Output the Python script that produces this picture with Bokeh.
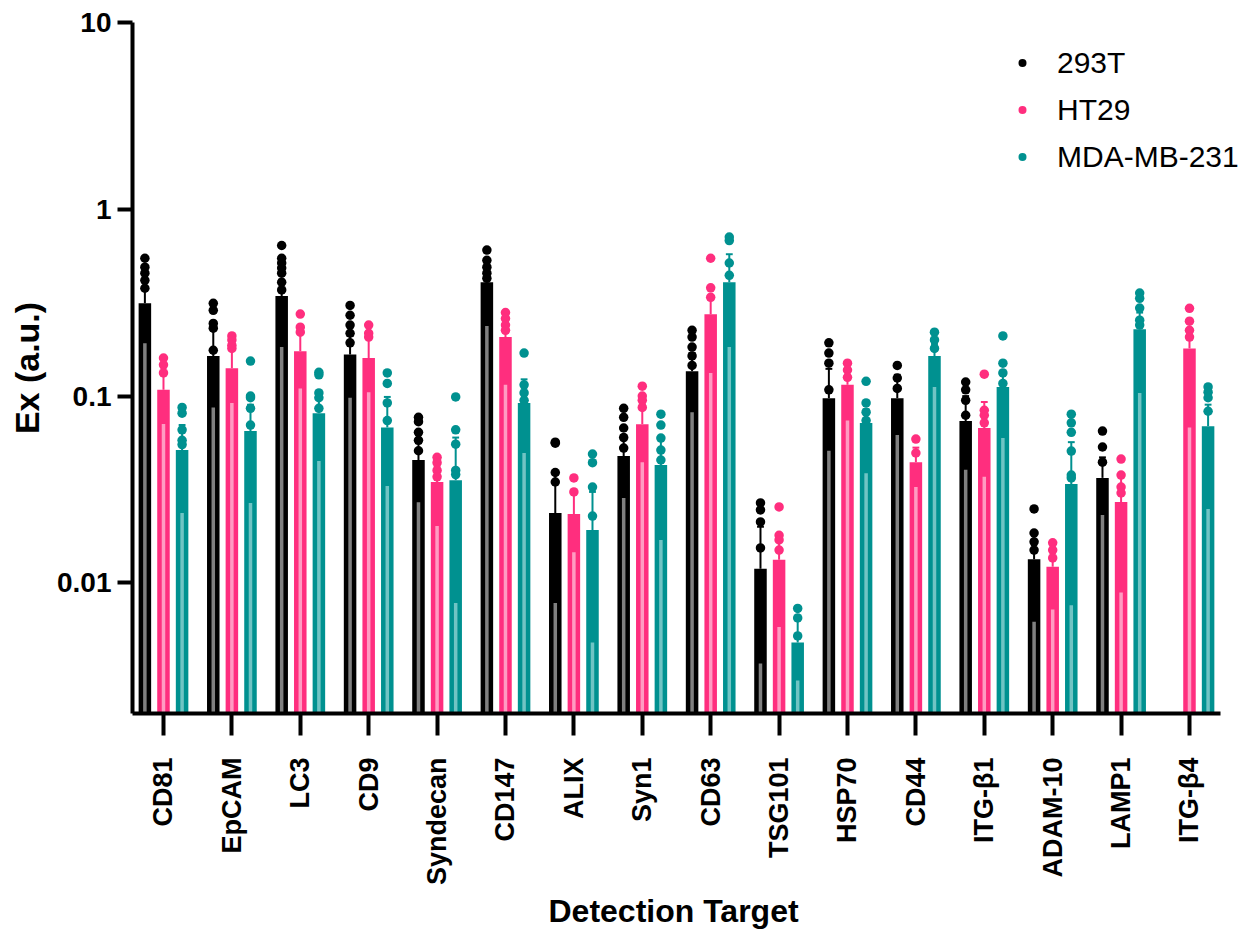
import math
from bokeh.plotting import figure
from bokeh.models import FixedTicker, Legend, LegendItem, ColumnDataSource, Range1d, Title
from bokeh.embed import file_html
from bokeh.resources import INLINE

categories = ["CD81", "EpCAM", "LC3", "CD9", "Syndecan", "CD147", "ALIX", "Syn1",
              "CD63", "TSG101", "HSP70", "CD44", "ITG-β1", "ADAM-10", "LAMP1", "ITG-β4"]
series = ["293T", "HT29", "MDA-MB-231"]

# bar heights (means)
mean_293T = [0.314, 0.164, 0.343, 0.167, 0.0455, 0.407, 0.0237, 0.0478, 0.136, 0.0119,
             0.0975, 0.0975, 0.0735, 0.0134, 0.0365, None]
mean_HT29 = [0.108, 0.141, 0.174, 0.160, 0.0347, 0.207, 0.0234, 0.0708, 0.274, 0.0133,
             0.115, 0.0443, 0.0675, 0.0122, 0.0271, 0.180]
mean_MDA = [0.0514, 0.065, 0.081, 0.068, 0.0355, 0.092, 0.0192, 0.0428, 0.407, 0.0048,
            0.0717, 0.164, 0.112, 0.0338, 0.228, 0.069]

# upper end of error bars (mean + SD)
hi_293T = [0.38, 0.23, 0.42, 0.21, 0.056, 0.48, 0.038, 0.062, 0.17, 0.020,
           0.14, 0.13, 0.10, 0.017, 0.047, None]
hi_HT29 = [0.13, 0.19, 0.22, 0.21, 0.042, 0.24, 0.031, 0.090, 0.33, 0.017,
           0.135, 0.053, 0.093, 0.0148, 0.038, 0.23]
hi_MDA = [0.070, 0.090, 0.105, 0.099, 0.060, 0.123, 0.0307, 0.0604, 0.575, 0.0065,
          0.085, 0.19, 0.13, 0.0567, 0.28, 0.090]

# lower end of error bars (mean - SD), drawn as light stripe inside bar
lo_293T = [0.192, 0.087, 0.183, 0.098, 0.027, 0.237, 0.0078, 0.0285, 0.082, 0.0037,
           0.051, 0.062, 0.0403, 0.0062, 0.0231, None]
lo_HT29 = [0.071, 0.092, 0.110, 0.105, 0.0202, 0.115, 0.0146, 0.0443, 0.133, 0.0058,
           0.074, 0.0326, 0.037, 0.0072, 0.0089, 0.068]
lo_MDA = [0.0237, 0.0268, 0.045, 0.033, 0.0078, 0.0496, 0.0048, 0.017, 0.183, 0.0030,
          0.0387, 0.112, 0.0596, 0.0076, 0.104, 0.0249]

# individual replicate points (visible ones)
pts_293T = [[0.547, 0.49, 0.455, 0.417, 0.378], [0.314, 0.288, 0.245, 0.231, 0.176],
            [0.64, 0.547, 0.516, 0.485, 0.455, 0.407, 0.37], [0.306, 0.271, 0.24, 0.217, 0.193],
            [0.077, 0.073, 0.064, 0.058, 0.051], [0.605, 0.533, 0.49, 0.455, 0.427],
            [0.0567, 0.056, 0.039, 0.0347], [0.086, 0.077, 0.0675, 0.060, 0.0527],
            [0.225, 0.207, 0.183, 0.164, 0.146], [0.0268, 0.0246, 0.0212, 0.0154],
            [0.193, 0.17, 0.15, 0.108], [0.146, 0.125, 0.11],
            [0.119, 0.108, 0.095, 0.079], [0.0249, 0.0185, 0.0166, 0.015],
            [0.065, 0.0534, 0.0443], []]
pts_HT29 = [[0.16, 0.147, 0.133], [0.21, 0.2, 0.187, 0.18], [0.275, 0.234, 0.22],
            [0.24, 0.217, 0.207], [0.047, 0.044, 0.040, 0.037], [0.28, 0.26, 0.24, 0.225],
            [0.0365, 0.0307], [0.113, 0.1, 0.095, 0.087], [0.547, 0.38, 0.338],
            [0.0255, 0.018, 0.017, 0.015], [0.15, 0.138, 0.126], [0.0589, 0.0496],
            [0.131, 0.084, 0.079, 0.072], [0.0164, 0.015, 0.0136],
            [0.046, 0.0378, 0.0326, 0.0303], [0.295, 0.252, 0.225, 0.207]]
pts_MDA = [[0.087, 0.081, 0.066, 0.058, 0.055], [0.154, 0.1, 0.098, 0.086, 0.07],
           [0.134, 0.13, 0.104, 0.098, 0.086], [0.133, 0.117, 0.092, 0.074],
           [0.099, 0.066, 0.0553, 0.040, 0.038], [0.17, 0.115, 0.104, 0.095],
           [0.049, 0.044, 0.0326, 0.0228], [0.080, 0.07, 0.0596, 0.0514, 0.0455],
           [0.71, 0.68, 0.516, 0.443], [0.0073, 0.0065, 0.0052],
           [0.12, 0.092, 0.082, 0.074], [0.22, 0.2, 0.18], [0.21, 0.15, 0.133, 0.117],
           [0.08, 0.072, 0.064, 0.0508, 0.0378, 0.0365],
           [0.356, 0.334, 0.296, 0.255, 0.24], [0.112, 0.105, 0.098, 0.083]]

colors = ["#000000", "#FF2E7E", "#009190"]
stripe_colors = ["#808080", "#FF9CC2", "#70C4C4"]
offsets = [-0.272, 0.0, 0.272]
bar_w = 0.183
cap_w = 0.05
FONT = "Liberation Sans"

X0, X1 = -0.453, 15.453   # visible axis extent
X_END = 15.892            # frame extends to the canvas edge (room for legend)

p = figure(frame_width=1118, frame_height=691, y_axis_type="log",
           x_range=Range1d(X0, X_END), y_range=Range1d(0.002, 10),
           output_backend="svg", toolbar_location=None,
           min_border_left=132, min_border_right=0, min_border_top=22,
           min_border_bottom=200)
p.outline_line_color = None
p.grid.grid_line_color = None
p.background_fill_color = "white"

means = [mean_293T, mean_HT29, mean_MDA]
his = [hi_293T, hi_HT29, hi_MDA]
los = [lo_293T, lo_HT29, lo_MDA]
pts = [pts_293T, pts_HT29, pts_MDA]

legend_items = []
for s in range(3):
    xs, tops, hv, lv = [], [], [], []
    for i in range(len(categories)):
        if means[s][i] is None:
            continue
        xs.append(i + offsets[s])
        tops.append(means[s][i])
        hv.append(his[s][i])
        lv.append(los[s][i])
    src = ColumnDataSource(dict(
        x=xs, top=tops, hi=hv, lo=lv,
        bottom=[0.001] * len(xs),
        xl=[x - cap_w for x in xs], xr=[x + cap_w for x in xs]))
    p.vbar(x="x", top="top", bottom="bottom", width=bar_w, source=src,
           fill_color=colors[s], line_color=None)
    p.segment(x0="x", y0="bottom", x1="x", y1="lo", source=src,
              line_color=stripe_colors[s], line_width=3.5)
    p.segment(x0="x", y0="top", x1="x", y1="hi", source=src,
              line_color=colors[s], line_width=2)
    p.segment(x0="xl", y0="hi", x1="xr", y1="hi", source=src,
              line_color=colors[s], line_width=2)
    px, py = [], []
    for i in range(len(categories)):
        for v in pts[s][i]:
            px.append(i + offsets[s])
            py.append(v)
    r = p.scatter(px, py, size=9.5, fill_color=colors[s], line_color=None)
    legend_items.append(LegendItem(label=series[s], renderers=[r]))

legend = Legend(items=legend_items, location=(880, 533),
                padding=0, margin=0, spacing=0,
                glyph_height=47, glyph_width=20, label_height=47,
                label_standoff=25, label_text_font=FONT,
                label_text_font_size="30px", label_text_color="black",
                border_line_color=None, background_fill_alpha=0)
p.add_layout(legend, "center")

# y axis
yax = p.yaxis[0]
yax.ticker = FixedTicker(ticks=[0.01, 0.1, 1, 10], minor_ticks=[])
yax.major_label_overrides = {0.01: "0.01", 0.1: "0.1", 1: "1", 10: "10"}
yax.axis_label = "Ex (a.u.)"

# x axis
xax = p.xaxis[0]
xax.ticker = FixedTicker(ticks=list(range(len(categories))), minor_ticks=[])
xax.major_label_overrides = {i: c for i, c in enumerate(categories)}
xax.major_label_orientation = math.pi / 2
xax.bounds = (X0, X1)

for ax in (xax, yax):
    ax.axis_line_width = 4
    ax.axis_line_color = "black"
    ax.major_tick_line_width = 4
    ax.major_tick_line_color = "black"
    ax.major_tick_in = 0
    ax.minor_tick_line_color = None
    ax.major_label_text_font = FONT
    ax.major_label_text_font_style = "bold"
    ax.major_label_text_color = "black"
    ax.axis_label_text_font = FONT
    ax.axis_label_text_font_style = "bold"
    ax.axis_label_text_font_size = "34px"
    ax.axis_label_text_color = "black"

yax.major_tick_out = 15
yax.major_label_standoff = 6
yax.major_label_text_font_size = "28px"
yax.axis_label_standoff = 8

xax.major_tick_out = 22
xax.major_label_standoff = 22
xax.major_label_text_font_size = "27px"

# x-axis title centred on the visible axis (not on the widened frame)
xtitle = Title(text="Detection Target", align="left", offset=416,
               text_font=FONT, text_font_style="bold", text_font_size="32px",
               text_color="black", standoff=4)
p.add_layout(xtitle, "below")

open("out.html", "w").write(file_html(p, INLINE))
